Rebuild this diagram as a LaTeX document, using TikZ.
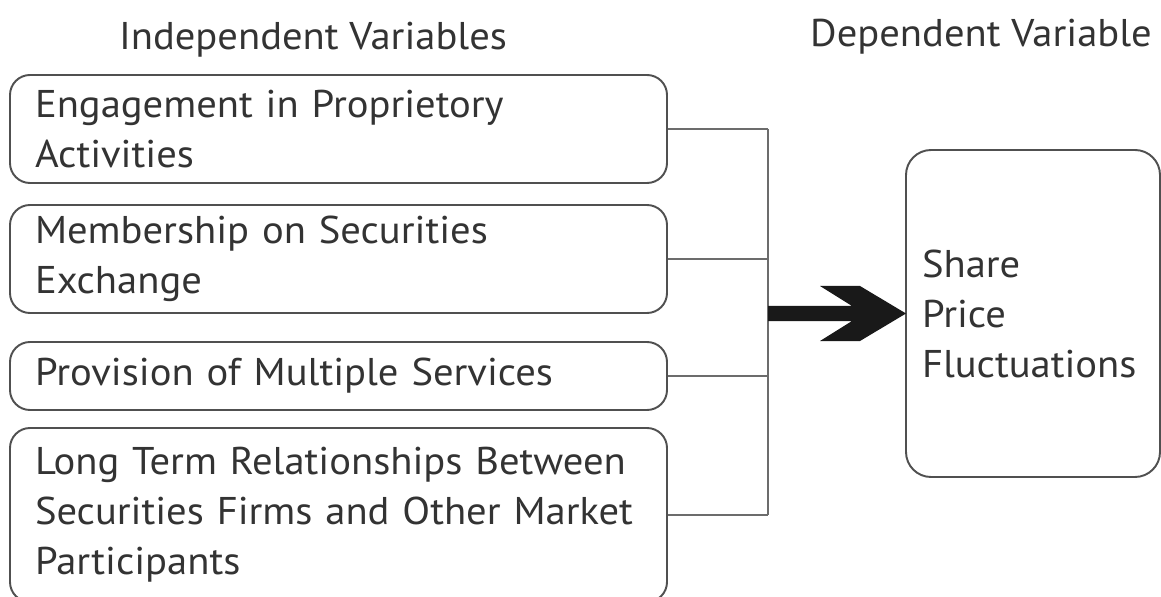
\documentclass[tikz,border=0pt]{standalone}
\usepackage{fontspec}
\setmainfont{PT Sans}[FakeStretch=1.05]
\definecolor{ink}{HTML}{333333}
\definecolor{rim}{HTML}{505050}
\begin{document}
\begin{tikzpicture}[
  every node/.style={font=\fontsize{22}{28.45}\selectfont,text=ink},
  var/.style={draw=rim,line width=1.1pt,rounded corners=0.4cm,minimum width=13.14cm,
    text width=12.14cm,inner xsep=0.5cm,align=left},
  link/.style={draw=gray!85!black,line width=1.1pt}]
\useasboundingbox[fill=white] (0,0) rectangle (23.22,11.92);
% headings
\node[anchor=base] (indep) at (6.26,10.92) {Independent Variables};
\node[anchor=base] (dep) at (19.62,10.98) {Dependent Variable};
% independent variables
\node[var,minimum height=2.16cm] (eng) at (6.77,9.34) {Engagement in Proprietory\\Activities};
\node[var,minimum height=2.16cm] (mem) at (6.77,6.74) {Membership on Securities\\Exchange};
\node[var,minimum height=1.36cm] (pro) at (6.77,4.40) {Provision of Multiple Services};
\node[var,minimum height=3.48cm] (lon) at (6.77,1.62) {Long Term Relationships Between\\Securities Firms and Other Market\\Participants};
% dependent variable
\node[draw=rim,line width=1.1pt,rounded corners=0.5cm,minimum width=5.08cm,minimum height=6.54cm,
  text width=4.44cm,inner xsep=0.32cm,align=left] (spv) at (20.66,5.65) {Share\\Price\\Fluctuations};
% bus line
\coordinate (bus) at (15.36,0);
\foreach \n in {eng,mem,pro,lon}
  \draw[link] (\n.east) -- (\n.east -| bus);
\draw[link] (eng.east -| bus) -- (lon.east -| bus);
% big arrow
\coordinate (fork) at (spv.west -| bus);
\fill[black!90] (fork) ++(0,0.15) -- ++(1.68,0) -- ++(-0.64,0.40) -- ++(0.80,0) -- ++(0.92,-0.55)
  -- ++(-0.92,-0.55) -- ++(-0.80,0) -- ++(0.64,0.40) -- ++(-1.68,0) -- cycle;
\end{tikzpicture}
\end{document}
